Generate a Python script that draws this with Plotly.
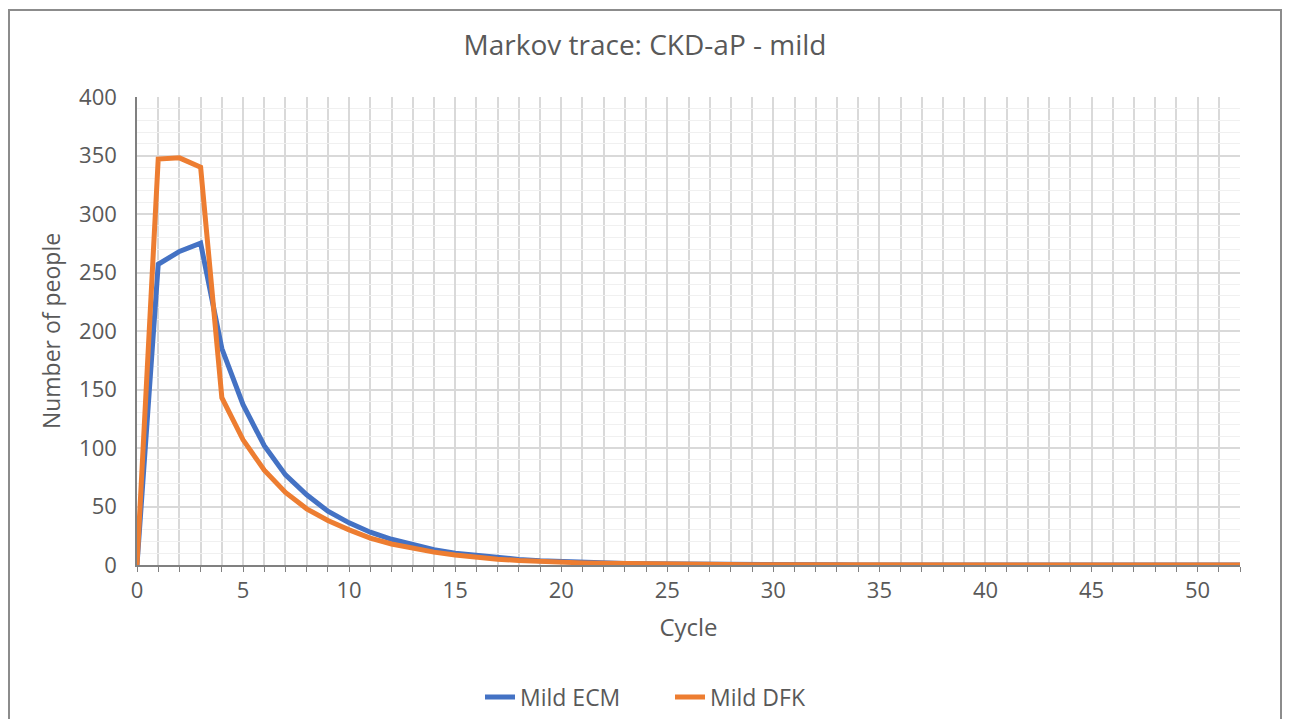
import plotly.graph_objects as go

cycles = list(range(0, 53))
mild_ecm = [0, 257, 268, 275, 185, 137, 102, 77, 60, 46, 36, 28, 22, 17, 13, 10, 8, 6,
            4.8, 3.7, 2.9, 2.2, 1.7, 1.3, 1.0, 0.8, 0.6, 0.5, 0.4, 0.3, 0.25, 0.2, 0.15,
            0.12, 0.1, 0.08, 0.06, 0.05, 0.04, 0.03, 0.03, 0.02, 0.02, 0.02, 0.01, 0.01,
            0.01, 0.01, 0.01, 0.0, 0.0, 0.0, 0.0]
mild_dfk = [0, 347, 348, 340, 143, 107, 81, 62, 48, 38, 30, 23, 18, 14, 11, 8.5, 6.5, 5,
            3.9, 3.0, 2.3, 1.8, 1.4, 1.1, 0.8, 0.6, 0.5, 0.4, 0.3, 0.25, 0.2, 0.15, 0.12,
            0.1, 0.08, 0.06, 0.05, 0.04, 0.03, 0.03, 0.02, 0.02, 0.02, 0.01, 0.01, 0.01,
            0.01, 0.01, 0.0, 0.0, 0.0, 0.0, 0.0]

series_names = ["Mild ECM", "Mild DFK"]
series_colors = ["#4472C4", "#ED7D31"]

FONT = "Open Sans"
TXT = "#595959"

fig = go.Figure()
for name, vals, col in zip(series_names, [mild_ecm, mild_dfk], series_colors):
    fig.add_trace(go.Scatter(x=cycles, y=vals, mode="lines", name=name,
                             line=dict(color=col, width=5)))

# page is offset by the 8px body margin
OFF = 8
W, H = 1276, 711
L, T = 137 - OFF, 97 - OFF
R = W - (1240 - OFF)
B = H - (565 - OFF)
pw, ph = W - L - R, H - T - B

def px_x(page_x):
    return (page_x - OFF - L) / pw

def px_y(page_y):
    return (H - B - (page_y - OFF)) / ph

def cx(page_x):
    return (page_x - OFF) / W

def cy(page_y):
    return 1 - (page_y - OFF) / H

fig.update_layout(
    width=W, height=H,
    margin=dict(l=L, r=R, t=T, b=B, autoexpand=False),
    paper_bgcolor="white", plot_bgcolor="white",
    font=dict(family=FONT, color=TXT, size=22),
    title=dict(text="Markov trace: CKD-aP - mild", x=cx(645), xref="container",
               xanchor="center", y=cy(45), yref="container", yanchor="middle",
               font=dict(size=28, color=TXT, family=FONT)),
    showlegend=True,
    legend=dict(orientation="h", x=cx(670), xref="container", xanchor="center",
                y=cy(697), yref="container", yanchor="middle",
                font=dict(size=23, color=TXT), bgcolor="rgba(0,0,0,0)",
                entrywidth=145, entrywidthmode="pixels"),
    xaxis=dict(range=[0, 52], dtick=5, tick0=0, showgrid=True, gridcolor="#d9d9d9",
               gridwidth=1.5, showline=True, linecolor="#808080", linewidth=1.5,
               ticks="outside", ticklen=5, tickcolor="#808080",
               minor=dict(dtick=1, showgrid=True, gridcolor="#d9d9d9", gridwidth=1.5,
                          ticks="outside", ticklen=5, tickcolor="#808080"),
               ticklabelstandoff=0,
               title=dict(text="Cycle", font=dict(size=24, color=TXT), standoff=16),
               zeroline=False, tickfont=dict(size=22, color=TXT)),
    yaxis=dict(range=[0, 400], dtick=50, showgrid=True, gridcolor="#d9d9d9",
               gridwidth=1.5, showline=True, linecolor="#808080", linewidth=1.5,
               minor=dict(dtick=10, showgrid=True, gridcolor="#f0f0f0", gridwidth=1),
               ticks="", ticklen=0, ticklabelstandoff=14,
               title=dict(text="Number of people", font=dict(size=23, color=TXT), standoff=12),
               zeroline=False, tickfont=dict(size=22, color=TXT)),
    shapes=[dict(type="rect", xref="paper", yref="paper",
                 x0=px_x(9), x1=px_x(1281), y0=px_y(780), y1=px_y(10),
                 line=dict(color="#8c8c8c", width=2), fillcolor="rgba(0,0,0,0)", layer="below")],
)

fig.write_html("out.html")
